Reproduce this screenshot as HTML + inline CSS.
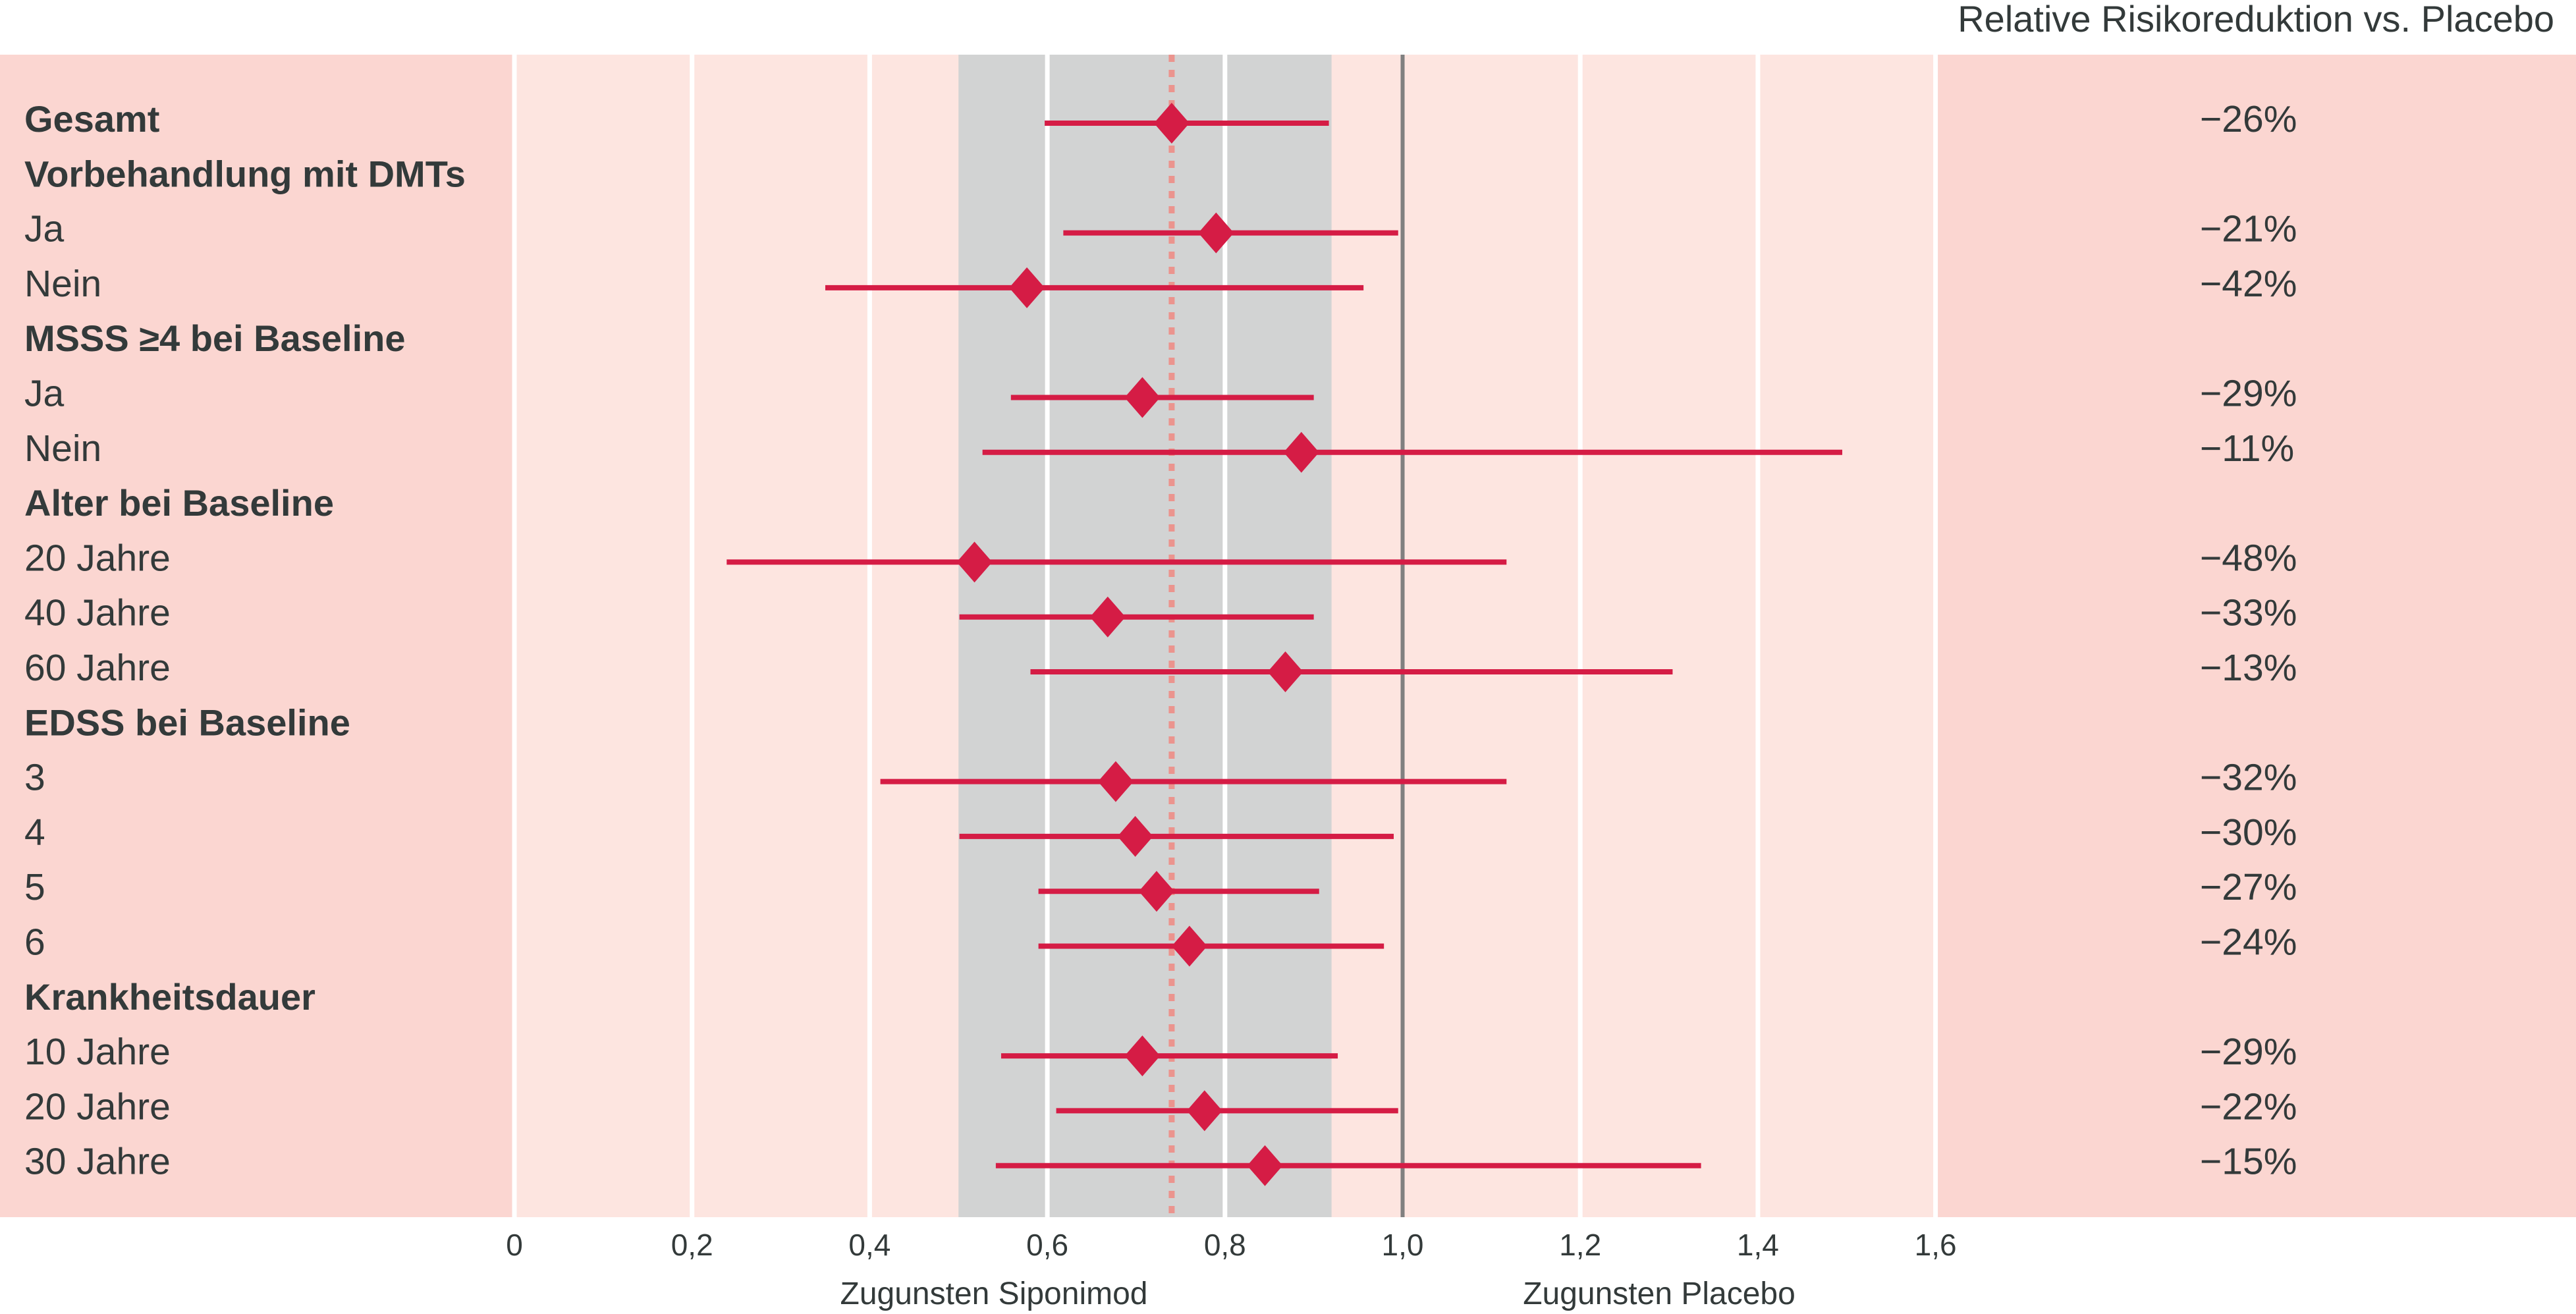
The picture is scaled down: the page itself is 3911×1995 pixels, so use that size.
<!DOCTYPE html>
<html><head><meta charset="utf-8"><style>
html,body{margin:0;padding:0;background:#fff;}
svg{display:block;font-family:"Liberation Sans",sans-serif;}
</style></head><body>
<svg id="chart" width="3911" height="1995" viewBox="0 0 3911 1995" xmlns="http://www.w3.org/2000/svg">
<rect x="0" y="83" width="778" height="1765" fill="#fbd6d1"/>
<rect x="778" y="83" width="2164" height="1765" fill="#fde5e0"/>
<rect x="2941" y="83" width="970" height="1765" fill="#fbd6d1"/>
<g id="bands"></g><g id="grid"></g><g id="marks"></g><g id="labels"></g>
<text x="3878" y="48" font-size="56" fill="#333a3a" text-anchor="end">Relative Risikoreduktion vs. Placebo</text>
<text x="1509" y="1980" font-size="48" fill="#333a3a" text-anchor="middle">Zugunsten Siponimod</text>
<text x="2519" y="1980" font-size="48" fill="#333a3a" text-anchor="middle">Zugunsten Placebo</text>
</svg>
<script>
const labels = ["Gesamt","Vorbehandlung mit DMTs","Ja","Nein","MSSS ≥4 bei Baseline","Ja","Nein","Alter bei Baseline","20 Jahre","40 Jahre","60 Jahre","EDSS bei Baseline","3","4","5","6","Krankheitsdauer","10 Jahre","20 Jahre","30 Jahre"];
const isHeader = [1,1,0,0,1,0,0,1,0,0,0,1,0,0,0,0,1,0,0,0];
const pointEst = [0.74,null,0.79,0.577,null,0.707,0.886,null,0.518,0.668,0.868,null,0.677,0.699,0.723,0.76,null,0.707,0.777,0.845];
const ciLow   = [0.597,null,0.618,0.35,null,0.559,0.527,null,0.239,0.501,0.581,null,0.412,0.501,0.59,0.59,null,0.548,0.61,0.542];
const ciHigh  = [0.917,null,0.995,0.956,null,0.90,1.495,null,1.117,0.90,1.304,null,1.117,0.99,0.906,0.979,null,0.927,0.995,1.336];
const rrr     = ["−26%",null,"−21%","−42%",null,"−29%","−11%",null,"−48%","−33%","−13%",null,"−32%","−30%","−27%","−24%",null,"−29%","−22%","−15%"];
const ticks = [0,0.2,0.4,0.6,0.8,1.0,1.2,1.4,1.6];
const tickLabels = ["0","0,2","0,4","0,6","0,8","1,0","1,2","1,4","1,6"];
const overallCI = [0.5,0.92];
const overallEst = 0.74;
const refValue = 1.0;

const NS="http://www.w3.org/2000/svg";
const xS = v => 781 + v*1348.5;
const yS = i => 180 + i*83.3;
const TOP=83, BOT=1848;
function mk(parent,tag,attrs){const e=document.createElementNS(NS,tag);for(const k in attrs)e.setAttribute(k,attrs[k]);document.getElementById(parent).appendChild(e);return e;}

let b=mk('bands','rect',{x:xS(overallCI[0]),y:TOP,width:xS(overallCI[1])-xS(overallCI[0]),height:BOT-TOP,fill:'#d2d3d3'});



ticks.forEach((t,k)=>{
  if(t!==refValue){
    const g=mk('grid','line',{x1:xS(t),x2:xS(t),y1:TOP,y2:BOT,stroke:'#ffffff','stroke-width':7});
    
    
  }
  const tl=mk('labels','text',{x:xS(t),y:1906,'font-size':46,fill:'#333a3a','text-anchor':'middle'});
  tl.textContent=tickLabels[k];
  
  
});
let dl=mk('grid','line',{x1:xS(overallEst),x2:xS(overallEst),y1:TOP,y2:BOT,stroke:'#eb948e','stroke-width':9,'stroke-dasharray':'11 12'});


let rl=mk('grid','line',{x1:xS(refValue),x2:xS(refValue),y1:TOP,y2:BOT,stroke:'#808080','stroke-width':6});



labels.forEach((lab,i)=>{
  const y=yS(i);
  const t=mk('labels','text',{x:37,y:y+20,'font-size':isHeader[i]?56:57,'font-weight':isHeader[i]?'bold':'normal',fill:'#333a3a'});
  t.textContent=lab;
  
  
  if(pointEst[i]!==null){
    const my=y+7;
    const l=mk('marks','line',{x1:xS(ciLow[i]),x2:xS(ciHigh[i]),y1:my,y2:my,stroke:'#d51c45','stroke-width':8});
    
    
    const cx=xS(pointEst[i]);
    const d=mk('marks','polygon',{points:`${cx},${my-31} ${cx+27},${my} ${cx},${my+31} ${cx-27},${my}`,fill:'#d51c45'});
    
    
    const v=mk('labels','text',{x:3340,y:y+20,'font-size':57,fill:'#333a3a'});
    v.textContent=rrr[i];
    
    
  }
});
</script>
</body></html>
